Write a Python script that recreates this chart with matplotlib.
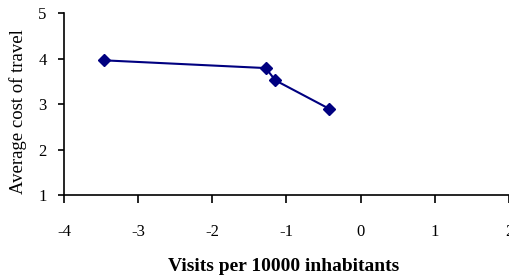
import matplotlib
matplotlib.use("Agg")
import matplotlib.pyplot as plt

# data
visits = [-3.46, -1.28, -1.15, -0.43]
cost = [3.96, 3.79, 3.52, 2.9]
x_ticks = [-4, -3, -2, -1, 0, 1, 2]
y_ticks = [1, 2, 3, 4, 5]

plt.rcParams["font.family"] = ["Liberation Serif", "DejaVu Serif"]

fig = plt.figure(figsize=(5.1, 2.77), dpi=100)
ax = fig.add_axes([0.1255, 0.296, 0.8725, 0.657])

ax.plot(visits, cost, color="#000080", linewidth=1.5, marker="D", markersize=6,
        markerfacecolor="#000080", markeredgecolor="#000080")

ax.set_xlim(-4, 2)
ax.set_ylim(1, 5)
ax.set_xticks(x_ticks)
ax.set_yticks(y_ticks)
ax.set_xticklabels([str(t) for t in x_ticks])
ax.set_yticklabels([str(t) for t in y_ticks])

ax.spines["top"].set_visible(False)
ax.spines["right"].set_visible(False)
ax.spines["left"].set_linewidth(1.2)
ax.spines["bottom"].set_linewidth(1.2)
ax.tick_params(axis="x", direction="out", length=6, width=1.2, pad=15, labelsize=12)
ax.tick_params(axis="y", direction="out", length=4.5, width=1.2, pad=8, labelsize=12)

ax.set_ylabel("Average cost of travel", fontsize=13.5)
ax.set_xlabel("Visits per 10000 inhabitants", fontsize=14, fontweight="bold")
ax.yaxis.set_label_coords(-0.084, 0.456)
ax.xaxis.set_label_coords(0.494, -0.346)

fig.savefig("out.png", dpi=100)
